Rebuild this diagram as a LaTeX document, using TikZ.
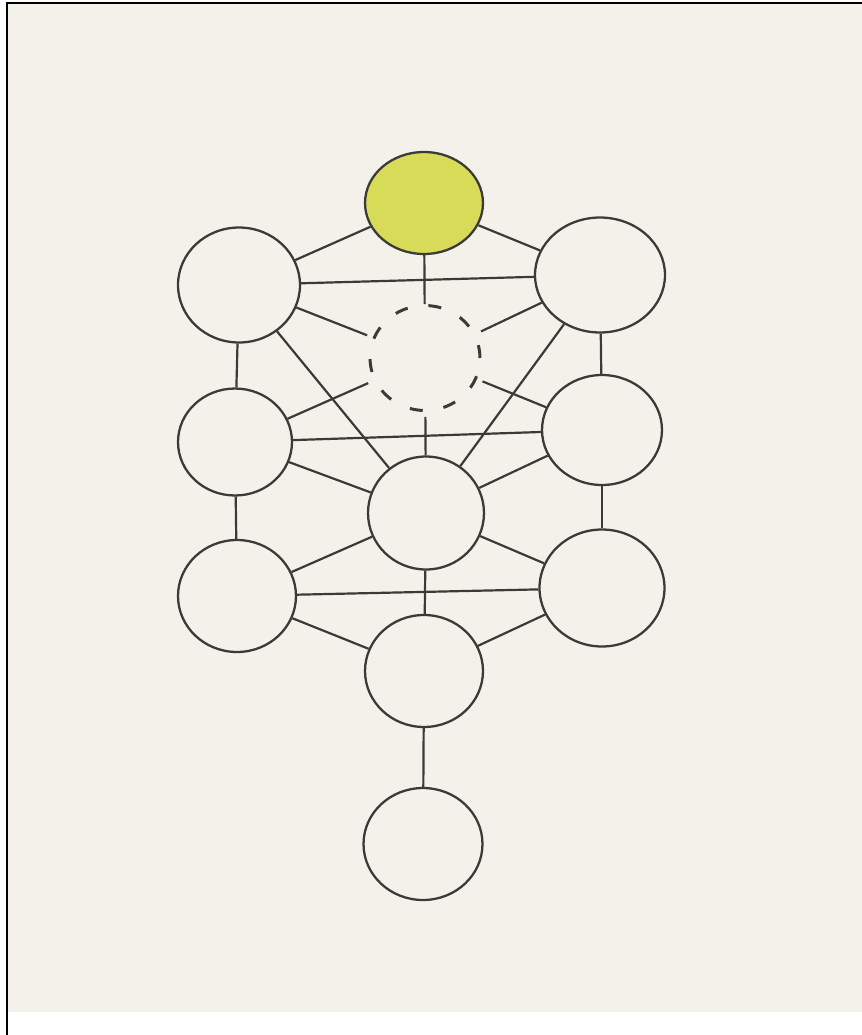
\documentclass[tikz,border=0pt]{standalone}
\usetikzlibrary{shapes.geometric}
\definecolor{paper}{HTML}{F3F1EA}
\definecolor{ink}{HTML}{3A3A38}
\definecolor{crownyellow}{HTML}{D7DB58}

\begin{document}
\begin{tikzpicture}[
  x=0.02cm, y=-0.02cm,
  sefira/.style={
    ellipse,
    draw=ink,
    line width=1.3pt,
    fill=paper,
    inner sep=0pt,
    minimum width=2.36cm,
    minimum height=2.24cm
  },
  hidden/.style={sefira, dash pattern=on 0.26cm off 0.42cm, line width=1.7pt},
  link/.style={draw=ink, line width=1.25pt},
  tohidden/.style={link, shorten >=0.12cm}
]
  % paper, white strip and frame
  \useasboundingbox (0,0) rectangle (862,1035);
  \fill[white] (0,0) rectangle (862,1035);
  \fill[paper] (8,4) rectangle (862,1012);
  \draw[black, line width=1.2pt] (7,1035) -- (7,3) -- (862,3);

  \node[sefira, fill=crownyellow, minimum height=2.04cm] (kether) at (424,203) {};
  \node[sefira, minimum width=2.44cm, minimum height=2.3cm] (binah) at (239,285) {};
  \node[sefira, minimum width=2.6cm, minimum height=2.3cm] (chokmah) at (600,275) {};
  \node[hidden, minimum width=2.2cm, minimum height=2.1cm] (daath) at (425,358) {};
  \node[sefira, minimum width=2.28cm, minimum height=2.14cm] (geburah) at (235,442) {};
  \node[sefira, minimum width=2.4cm, minimum height=2.2cm] (chesed) at (602,430) {};
  \node[sefira, minimum width=2.32cm, minimum height=2.26cm] (tiphareth) at (426,513) {};
  \node[sefira] (hod) at (237,596) {};
  \node[sefira, minimum width=2.5cm, minimum height=2.34cm] (netzach) at (602,588) {};
  \node[sefira] (yesod) at (424,671) {};
  \node[sefira, minimum width=2.38cm] (malkuth) at (423,844) {};

  \draw[link] (kether) -- (binah);
  \draw[link] (kether) -- (chokmah);
  \draw[link] (kether) -- (daath);
  \draw[link] (binah) -- (chokmah);
  \draw[tohidden] (binah) -- (daath);
  \draw[tohidden] (chokmah) -- (daath);
  \draw[link] (binah) -- (tiphareth);
  \draw[link] (chokmah) -- (tiphareth);
  \draw[link] (binah) -- (geburah);
  \draw[link] (chokmah) -- (chesed);
  \draw[tohidden] (geburah) -- (daath);
  \draw[tohidden] (chesed) -- (daath);
  \draw[link, shorten <=0.1cm] (daath) -- (tiphareth);
  \draw[link] (geburah) -- (chesed);
  \draw[link] (geburah) -- (tiphareth);
  \draw[link] (chesed) -- (tiphareth);
  \draw[link] (geburah) -- (hod);
  \draw[link] (chesed) -- (netzach);
  \draw[link] (tiphareth) -- (hod);
  \draw[link] (tiphareth) -- (netzach);
  \draw[link] (hod) -- (netzach);
  \draw[link] (tiphareth) -- (yesod);
  \draw[link] (hod) -- (yesod);
  \draw[link] (netzach) -- (yesod);
  \draw[link] (yesod) -- (malkuth);
\end{tikzpicture}
\end{document}
